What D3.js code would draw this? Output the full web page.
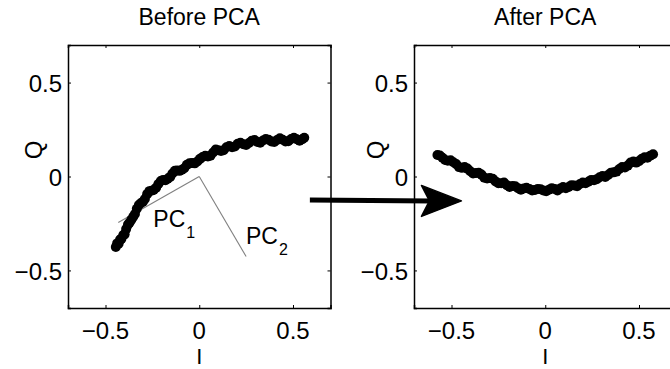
<!DOCTYPE html>
<html>
<head>
<meta charset="utf-8">
<script src="https://cdn.jsdelivr.net/npm/d3@7/dist/d3.min.js"></script>
<style>
  html, body { margin: 0; padding: 0; background: #fff; }
  svg { display: block; }
  text { font-family: "Liberation Sans", Arial, Helvetica, sans-serif; fill: #000; }
</style>
</head>
<body>
<svg id="chart" width="670" height="369"></svg>
<script>
// I/Q samples before rotation
const beforeI = [-0.445,-0.438,-0.430,-0.422,-0.415,-0.405,-0.398,-0.390,-0.380,-0.372,
  -0.362,-0.352,-0.343,-0.333,-0.322,-0.312,-0.300,-0.290,-0.278,-0.266,
  -0.255,-0.243,-0.230,-0.218,-0.205,-0.193,-0.180,-0.168,-0.155,-0.143,
  -0.130,-0.118,-0.105,-0.092,-0.080,-0.066,-0.052,-0.038,-0.024,-0.010,
  0.004,0.018,0.032,0.046,0.060,0.074,0.088,0.102,0.116,0.130,
  0.145,0.160,0.175,0.190,0.205,0.220,0.235,0.250,0.265,0.280,
  0.295,0.310,0.325,0.340,0.355,0.370,0.385,0.400,0.415,0.430,
  0.445,0.460,0.475,0.490,0.505,0.520,0.535,0.550,0.560];
const beforeQ = [-0.375,-0.356,-0.358,-0.336,-0.332,-0.312,-0.308,-0.280,-0.256,-0.246,
  -0.230,-0.214,-0.200,-0.172,-0.152,-0.142,-0.134,-0.120,-0.094,-0.078,
  -0.076,-0.072,-0.060,-0.040,-0.024,-0.018,-0.020,-0.012,-0.002,0.016,
  0.030,0.032,0.030,0.036,0.044,0.062,0.070,0.072,0.070,0.080,
  0.094,0.104,0.110,0.106,0.110,0.128,0.144,0.140,0.136,0.140,
  0.156,0.162,0.156,0.160,0.174,0.180,0.172,0.168,0.178,0.190,
  0.194,0.184,0.180,0.192,0.200,0.196,0.186,0.184,0.194,0.204,
  0.196,0.186,0.188,0.200,0.206,0.198,0.190,0.198,0.206];

// I/Q samples after rotation onto the principal components
const afterI = [-0.575,-0.562,-0.548,-0.534,-0.520,-0.505,-0.490,-0.475,-0.460,-0.445,
  -0.430,-0.415,-0.400,-0.385,-0.370,-0.355,-0.340,-0.325,-0.310,-0.295,
  -0.280,-0.265,-0.250,-0.235,-0.220,-0.205,-0.190,-0.175,-0.160,-0.145,
  -0.130,-0.115,-0.100,-0.085,-0.070,-0.055,-0.040,-0.025,-0.010,0.005,
  0.020,0.035,0.050,0.065,0.080,0.095,0.110,0.125,0.140,0.155,
  0.170,0.185,0.200,0.215,0.230,0.245,0.260,0.275,0.290,0.305,
  0.320,0.335,0.350,0.365,0.380,0.395,0.410,0.425,0.440,0.455,
  0.470,0.485,0.500,0.515,0.530,0.545,0.560,0.575];
const afterQ = [0.114,0.112,0.100,0.088,0.084,0.086,0.076,0.066,0.050,0.046,
  0.050,0.042,0.028,0.016,0.018,0.020,0.010,-0.006,-0.010,-0.008,
  -0.012,-0.026,-0.036,-0.036,-0.032,-0.046,-0.056,-0.050,-0.052,-0.062,
  -0.070,-0.064,-0.060,-0.066,-0.074,-0.072,-0.066,-0.068,-0.074,-0.078,
  -0.070,-0.062,-0.066,-0.074,-0.064,-0.056,-0.062,-0.056,-0.046,-0.048,
  -0.052,-0.040,-0.032,-0.036,-0.028,-0.018,-0.020,-0.014,-0.004,0.002,
  -0.002,0.008,0.020,0.022,0.026,0.040,0.050,0.048,0.058,0.074,
  0.080,0.074,0.082,0.094,0.102,0.100,0.110,0.118];

// principal component directions drawn from the origin
const pcLabels = ["1", "2"];
const pcEndI = [-0.432, 0.250];
const pcEndQ = [-0.245, -0.426];
const pcLabelI = [-0.245, 0.249];
const pcLabelQ = [-0.270, -0.361];

const tickValues = [-0.5, 0, 0.5];
const tickLabels = ["\u22120.5", "0", "0.5"];
const panelTitles = ["Before PCA", "After PCA"];
const axisDomain = [-0.7, 0.7];

// transition arrow: start in the left panel, tip in the right panel
const arrowStart = { I: 0.59, Q: -0.125 };
const arrowEnd = { I: -0.447, Q: -0.13 };

const svg = d3.select("#chart");

const panels = [
  { left: 68, right: 330.5, top: 45, bottom: 308, title: panelTitles[0], I: beforeI, Q: beforeQ, qLabelX: 42 },
  { left: 414, right: 676.5, top: 45, bottom: 308, title: panelTitles[1], I: afterI, Q: afterQ, qLabelX: 384 }
];

panels.forEach(p => {
  p.x = d3.scaleLinear().domain(axisDomain).range([p.left, p.right]);
  p.y = d3.scaleLinear().domain(axisDomain).range([p.bottom, p.top]);
});

const tickLen = 3;
const fmt = v => tickLabels[tickValues.indexOf(v)];

panels.forEach(p => {
  const g = svg.append("g");

  // frame with inward ticks on all four sides
  g.append("g").attr("transform", `translate(0,${p.bottom})`)
    .call(d3.axisBottom(p.x).tickValues(tickValues).tickSize(-tickLen).tickFormat(""));
  g.append("g").attr("transform", `translate(0,${p.top})`)
    .call(d3.axisTop(p.x).tickValues(tickValues).tickSize(-tickLen).tickFormat(""));
  g.append("g").attr("transform", `translate(${p.left},0)`)
    .call(d3.axisLeft(p.y).tickValues(tickValues).tickSize(-tickLen).tickFormat(""));
  g.append("g").attr("transform", `translate(${p.right},0)`)
    .call(d3.axisRight(p.y).tickValues(tickValues).tickSize(-tickLen).tickFormat(""));
  g.selectAll(".domain").attr("stroke", "#000").attr("stroke-width", 1.5);
  g.selectAll(".tick line").attr("stroke", "#000").attr("stroke-width", 1);

  // tick labels
  g.selectAll(".xlab").data(tickValues).join("text")
    .attr("x", d => p.x(d)).attr("y", 338.5)
    .attr("text-anchor", "middle").attr("font-size", 24)
    .text(fmt);
  g.selectAll(".ylab").data(tickValues).join("text")
    .attr("x", p.left - 6).attr("y", d => p.y(d) + 9.5)
    .attr("text-anchor", "end").attr("font-size", 24)
    .text(fmt);

  // title and axis labels
  g.append("text").attr("x", p.x(0)).attr("y", 25)
    .attr("text-anchor", "middle").attr("font-size", 23).text(p.title);
  g.append("text").attr("x", p.x(0)).attr("y", 364)
    .attr("text-anchor", "middle").attr("font-size", 22).text("I");
  g.append("text")
    .attr("transform", `translate(${p.qLabelX},150) rotate(-90)`)
    .attr("text-anchor", "middle").attr("font-size", 24).text("Q");
});

// principal component guides in the left panel
const L = panels[0];
svg.append("g").selectAll("line").data(pcEndI).join("line")
  .attr("x1", L.x(0)).attr("y1", L.y(0))
  .attr("x2", d => L.x(d)).attr("y2", (d, i) => L.y(pcEndQ[i]))
  .attr("stroke", "#808080").attr("stroke-width", 1.1);

// sample points
panels.forEach(p => {
  svg.append("g").selectAll("circle").data(p.I).join("circle")
    .attr("cx", d => p.x(d)).attr("cy", (d, i) => p.y(p.Q[i]))
    .attr("r", 5).attr("fill", "#000");
});

// PC labels with subscripts
pcLabels.forEach((lab, i) => {
  const t = svg.append("text")
    .attr("x", L.x(pcLabelI[i])).attr("y", L.y(pcLabelQ[i]))
    .attr("font-size", 23);
  t.append("tspan").text("PC");
  t.append("tspan").attr("font-size", 16).attr("dy", 11).attr("dx", 1).text(lab);
});

// arrow from the left panel to the right panel
const R = panels[1];
const x0 = L.x(arrowStart.I), y0 = L.y(arrowStart.Q);
const x1 = R.x(arrowEnd.I), y1 = R.y(arrowEnd.Q);
const headLen = 40, headHalf = 15.5, notch = 32;
svg.append("line")
  .attr("x1", x0).attr("y1", y0).attr("x2", x1 - notch + 2).attr("y2", y1)
  .attr("stroke", "#000").attr("stroke-width", 5);
svg.append("path")
  .attr("d", d3.line()([
    [x1, y1],
    [x1 - headLen, y1 - headHalf],
    [x1 - notch, y1],
    [x1 - headLen, y1 + headHalf]
  ]) + "Z")
  .attr("fill", "#000").attr("stroke", "#000").attr("stroke-width", 1.5)
  .attr("stroke-linejoin", "round");
</script>
</body>
</html>
